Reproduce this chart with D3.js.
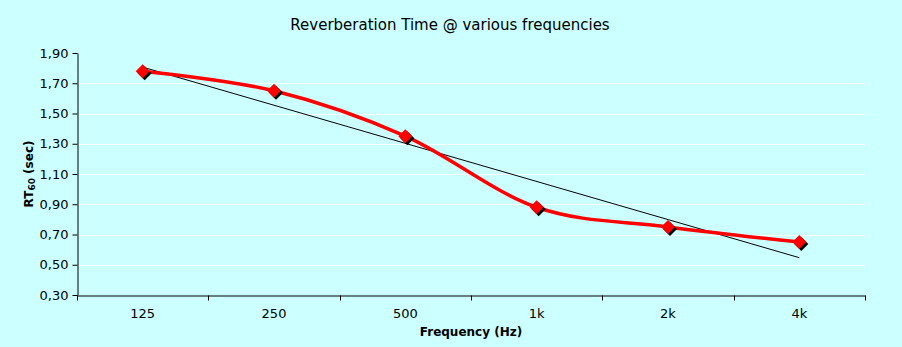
<!DOCTYPE html>
<html>
<head>
<meta charset="utf-8">
<script src="https://cdn.jsdelivr.net/npm/d3@7"></script>
<style>
  body { margin: 0; background: #ccffff; }
  text { font-family: Tahoma, "DejaVu Sans", Verdana, sans-serif; }
</style>
</head>
<body>
<div id="chart"></div>
<script>
// chart data
var frequencies = ["125", "250", "500", "1k", "2k", "4k"];
var rt60 = [1.78, 1.65, 1.35, 0.88, 0.75, 0.65];
var yTicks = [0.30, 0.50, 0.70, 0.90, 1.10, 1.30, 1.50, 1.70, 1.90];

var width = 902, height = 347;
var margin = {top: 53, right: 37, bottom: 52, left: 77};

var svg = d3.select("#chart").append("svg")
  .attr("width", width)
  .attr("height", height);

svg.append("rect")
  .attr("width", width)
  .attr("height", height)
  .attr("fill", "#ccffff");

var x = d3.scaleBand()
  .domain(frequencies)
  .range([margin.left, width - margin.right]);

var y = d3.scaleLinear()
  .domain([0.3, 1.9])
  .range([height - margin.bottom, margin.top]);

var fmt = function(d) { return d3.format(".2f")(d).replace(".", ","); };

// gridlines (none on the top tick)
svg.append("g")
  .selectAll("line")
  .data(yTicks.slice(1, -1))
  .enter().append("line")
    .attr("x1", margin.left)
    .attr("x2", width - margin.right)
    .attr("y1", d => Math.round(y(d)) + 0.5)
    .attr("y2", d => Math.round(y(d)) + 0.5)
    .attr("stroke", "#ffffff")
    .attr("stroke-width", 1);

// y axis
var yAxis = svg.append("g")
  .attr("transform", "translate(" + (margin.left + 0.5) + ",0)")
  .call(d3.axisLeft(y).tickValues(yTicks).tickFormat(fmt).tickSize(5).tickSizeOuter(0));

// x axis
var xAxis = svg.append("g")
  .attr("transform", "translate(0," + (Math.round(y(0.3)) + 0.5) + ")")
  .call(d3.axisBottom(x).tickSize(0).tickSizeOuter(0).tickPadding(13));

var bounds = [margin.left].concat(frequencies.map(f => x(f) + x.bandwidth()));
xAxis.selectAll(".bound")
  .data(bounds)
  .enter().append("line")
    .attr("class", "bound")
    .attr("x1", d => Math.round(d) + 0.5)
    .attr("x2", d => Math.round(d) + 0.5)
    .attr("y1", 0)
    .attr("y2", 5)
    .attr("stroke", "#000");

[yAxis, xAxis].forEach(function(a) {
  a.select(".domain").attr("stroke", "#000");
  a.selectAll(".tick line").attr("stroke", "#000");
  a.selectAll("text")
    .attr("fill", "#000")
    .style("font-size", "13px");
});
yAxis.selectAll("text").attr("dx", "-1");

var cx = d => x(frequencies[d]) + x.bandwidth() / 2;

// linear trendline (least squares over category index)
var n = rt60.length,
    mx = d3.mean(rt60, (d, i) => i),
    my = d3.mean(rt60),
    sxy = d3.sum(rt60, (d, i) => (i - mx) * (d - my)),
    sxx = d3.sum(rt60, (d, i) => (i - mx) * (i - mx)),
    slope = sxy / sxx,
    intercept = my - slope * mx;

svg.append("line")
  .attr("x1", cx(0))
  .attr("y1", y(intercept))
  .attr("x2", cx(n - 1))
  .attr("y2", y(intercept + slope * (n - 1)))
  .attr("stroke", "#000")
  .attr("stroke-width", 1);

// smoothed series line
var line = d3.line()
  .x((d, i) => cx(i))
  .y(d => y(d))
  .curve(d3.curveCardinal.tension(0));

svg.append("path")
  .datum(rt60)
  .attr("d", line)
  .attr("fill", "none")
  .attr("stroke", "#ff0000")
  .attr("stroke-width", 3.5);

// diamond markers with shadow
var diamond = "M0,-7L7,0L0,7L-7,0Z";
svg.append("g").selectAll("path")
  .data(rt60)
  .enter().append("path")
    .attr("d", diamond)
    .attr("transform", (d, i) => "translate(" + (cx(i) + 2) + "," + (y(d) + 2) + ")")
    .attr("fill", "#000");
svg.append("g").selectAll("path")
  .data(rt60)
  .enter().append("path")
    .attr("d", diamond)
    .attr("transform", (d, i) => "translate(" + cx(i) + "," + y(d) + ")")
    .attr("fill", "#ff0000");

// title
svg.append("text")
  .attr("x", 450)
  .attr("y", 30)
  .attr("text-anchor", "middle")
  .style("font-size", "15px")
  .text("Reverberation Time @ various frequencies");

// x label
svg.append("text")
  .attr("x", 471)
  .attr("y", 336)
  .attr("text-anchor", "middle")
  .style("font-size", "12px")
  .style("font-weight", "bold")
  .text("Frequency (Hz)");

// y label
var yl = svg.append("text")
  .attr("transform", "translate(33," + 174 + ") rotate(-90)")
  .attr("text-anchor", "middle")
  .style("font-size", "12px")
  .style("font-weight", "bold");
yl.append("tspan").text("RT");
yl.append("tspan").attr("dy", 2).style("font-size", "9px").text("60");
yl.append("tspan").attr("dy", -2).text("  (sec)");
</script>
</body>
</html>
